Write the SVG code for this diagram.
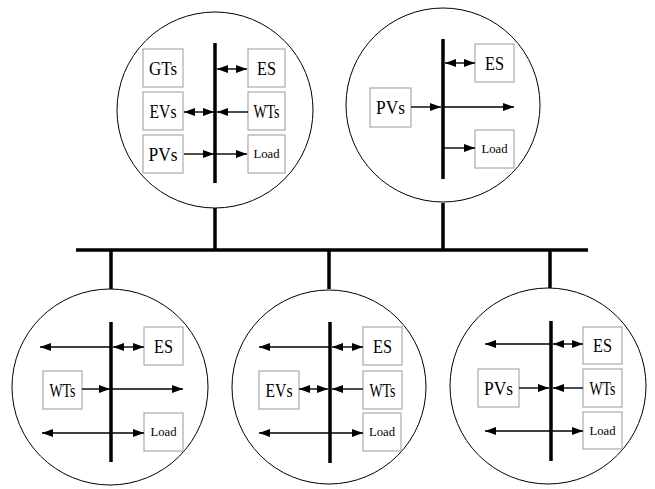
<svg xmlns="http://www.w3.org/2000/svg" width="655" height="489" viewBox="0 0 655 489">
<defs>
<marker id="ah" markerUnits="userSpaceOnUse" markerWidth="11" markerHeight="8" refX="11" refY="4" orient="auto-start-reverse" viewBox="0 0 11 8">
<path d="M0,0 L11,4 L0,8 z" fill="#000"/>
</marker>
<style>
.c{fill:none;stroke:#000;stroke-width:1}
.bus{stroke:#000;stroke-width:3.5;fill:none}
.bx{fill:#fff;stroke:#aaa;stroke-width:1.2}
.t{font-family:"Liberation Serif","Noto Serif CJK SC",serif;font-size:19px;text-anchor:middle;fill:#000}
.s{font-size:13px}
.a{stroke:#000;stroke-width:1.4;fill:none;marker-end:url(#ah)}
.d{stroke:#000;stroke-width:1.4;fill:none;marker-end:url(#ah);marker-start:url(#ah)}
</style>
</defs>
<rect width="655" height="489" fill="#fff"/>
<g id="main-bus">
<line class="bus" x1="76" y1="250" x2="588" y2="250" stroke-width="4"/>
<line class="bus" x1="215" y1="208" x2="215" y2="250"/>
<line class="bus" x1="443" y1="203" x2="443" y2="250"/>
<line class="bus" x1="111" y1="250" x2="111" y2="289"/>
<line class="bus" x1="329" y1="250" x2="329" y2="289"/>
<line class="bus" x1="550" y1="250" x2="550" y2="288"/>
</g>
<g id="mg1">
<circle class="c" cx="215" cy="110" r="98"/>
<line class="bus" x1="215" y1="43" x2="215" y2="183"/>
<rect class="bx" x="143" y="49" width="40" height="38"/><text class="t" x="163" y="75" textLength="28" lengthAdjust="spacingAndGlyphs">GTs</text>
<rect class="bx" x="143" y="92" width="40" height="38"/><text class="t" x="163" y="118" textLength="27" lengthAdjust="spacingAndGlyphs">EVs</text>
<rect class="bx" x="143" y="135" width="40" height="38"/><text class="t" x="163" y="161" textLength="29" lengthAdjust="spacingAndGlyphs">PVs</text>
<rect class="bx" x="248" y="49" width="37" height="38"/><text class="t" x="266.5" y="75" textLength="19" lengthAdjust="spacingAndGlyphs">ES</text>
<rect class="bx" x="248" y="92" width="37" height="38"/><text class="t" x="266.5" y="118" textLength="26" lengthAdjust="spacingAndGlyphs">WTs</text>
<rect class="bx" x="248" y="135" width="37" height="38"/><text class="t s" x="266.5" y="158" textLength="26" lengthAdjust="spacingAndGlyphs">Load</text>
</g>
<g id="mg2">
<circle class="c" cx="443" cy="105" r="97"/>
<line class="bus" x1="443" y1="39" x2="443" y2="179"/>
<rect class="bx" x="475" y="44" width="39" height="38"/><text class="t" x="494.5" y="70" textLength="19" lengthAdjust="spacingAndGlyphs">ES</text>
<rect class="bx" x="370" y="88" width="41" height="39"/><text class="t" x="390.5" y="114" textLength="29" lengthAdjust="spacingAndGlyphs">PVs</text>
<rect class="bx" x="475" y="130" width="39" height="38"/><text class="t s" x="494.5" y="153" textLength="26" lengthAdjust="spacingAndGlyphs">Load</text>
</g>
<g id="mg3">
<circle class="c" cx="110" cy="387" r="98"/>
<line class="bus" x1="111" y1="322" x2="111" y2="462"/>
<rect class="bx" x="144" y="327" width="39" height="38"/><text class="t" x="163.5" y="353" textLength="19" lengthAdjust="spacingAndGlyphs">ES</text>
<rect class="bx" x="43" y="371" width="39" height="38"/><text class="t" x="62.5" y="397" textLength="26" lengthAdjust="spacingAndGlyphs">WTs</text>
<rect class="bx" x="144" y="413" width="39" height="38"/><text class="t s" x="163.5" y="436" textLength="26" lengthAdjust="spacingAndGlyphs">Load</text>
</g>
<g id="mg4">
<circle class="c" cx="329" cy="387" r="97"/>
<line class="bus" x1="330" y1="322" x2="330" y2="463"/>
<rect class="bx" x="363" y="327" width="39" height="38"/><text class="t" x="382.5" y="353" textLength="19" lengthAdjust="spacingAndGlyphs">ES</text>
<rect class="bx" x="259" y="371" width="40" height="38"/><text class="t" x="279" y="397" textLength="27" lengthAdjust="spacingAndGlyphs">EVs</text>
<rect class="bx" x="363" y="371" width="39" height="38"/><text class="t" x="382.5" y="397" textLength="26" lengthAdjust="spacingAndGlyphs">WTs</text>
<rect class="bx" x="363" y="413" width="38" height="38"/><text class="t s" x="382" y="436" textLength="26" lengthAdjust="spacingAndGlyphs">Load</text>
</g>
<g id="mg5">
<circle class="c" cx="548" cy="386" r="98"/>
<line class="bus" x1="551" y1="321" x2="551" y2="461"/>
<rect class="bx" x="583" y="327" width="39" height="37"/><text class="t" x="602.5" y="352" textLength="19" lengthAdjust="spacingAndGlyphs">ES</text>
<rect class="bx" x="478" y="369" width="41" height="38"/><text class="t" x="498.5" y="395" textLength="29" lengthAdjust="spacingAndGlyphs">PVs</text>
<rect class="bx" x="583" y="369" width="39" height="38"/><text class="t" x="602.5" y="395" textLength="26" lengthAdjust="spacingAndGlyphs">WTs</text>
<rect class="bx" x="583" y="412" width="39" height="37"/><text class="t s" x="602.5" y="435" textLength="26" lengthAdjust="spacingAndGlyphs">Load</text>
</g>
<g id="connectors">
<line class="d" x1="217" y1="69" x2="247" y2="69"/>
<line class="d" x1="184" y1="112" x2="214" y2="112"/>
<line class="a" x1="248" y1="112" x2="217" y2="112"/>
<line class="a" x1="184" y1="154" x2="214" y2="154"/>
<line class="a" x1="215" y1="154" x2="247" y2="154"/>

<line class="d" x1="445" y1="63" x2="475" y2="63"/>
<line class="a" x1="411" y1="107" x2="441" y2="107"/>
<line class="a" x1="443" y1="107" x2="514" y2="107"/>
<line class="a" x1="443" y1="148" x2="475" y2="148"/>

<line class="a" x1="111" y1="347" x2="40" y2="347"/>
<line class="d" x1="113" y1="347" x2="144" y2="347"/>
<line class="a" x1="82" y1="389" x2="110" y2="389"/>
<line class="a" x1="111" y1="389" x2="183" y2="389"/>
<line class="d" x1="42" y1="433" x2="144" y2="433"/>

<line class="a" x1="330" y1="347" x2="259" y2="347"/>
<line class="d" x1="332" y1="347" x2="363" y2="347"/>
<line class="d" x1="299" y1="389" x2="328" y2="389"/>
<line class="a" x1="363" y1="389" x2="332" y2="389"/>
<line class="d" x1="259" y1="433" x2="363" y2="433"/>

<line class="a" x1="551" y1="344" x2="485" y2="344"/>
<line class="d" x1="553" y1="344" x2="583" y2="344"/>
<line class="a" x1="519" y1="388" x2="549" y2="388"/>
<line class="a" x1="583" y1="388" x2="553" y2="388"/>
<line class="d" x1="485" y1="431" x2="583" y2="431"/>
</g>
</svg>
